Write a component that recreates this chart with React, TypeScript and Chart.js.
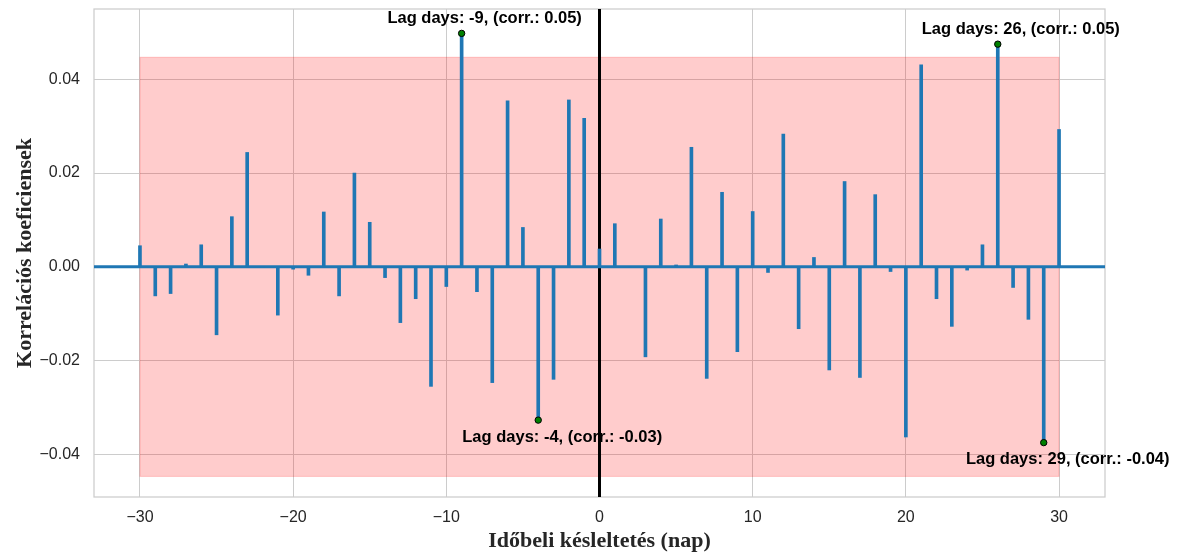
import React, { useEffect, useRef } from "react";
import { Chart, registerables } from "chart.js";

Chart.register(...registerables);

// ---- Data ----
const lags: number[] = [
  -30, -29, -28, -27, -26, -25, -24, -23, -22, -21, -20, -19, -18, -17, -16, -15,
  -14, -13, -12, -11, -10, -9, -8, -7, -6, -5, -4, -3, -2, -1, 0,
  1, 2, 3, 4, 5, 6, 7, 8, 9, 10, 11, 12, 13, 14, 15,
  16, 17, 18, 19, 20, 21, 22, 23, 24, 25, 26, 27, 28, 29, 30,
];
const corrValues: number[] = [
  0.0045, -0.0062, -0.0057, 0.0006, 0.0047, -0.0145, 0.0107, 0.0244, 0.0, -0.0103, -0.0005, -0.0018, 0.0117, -0.0062, 0.02, 0.0095,
  -0.0023, -0.0119, -0.0068, -0.0255, -0.0042, 0.0498, -0.0053, -0.0247, 0.0354, 0.0084, -0.0327, -0.024, 0.0356, 0.0317, 0.0038,
  0.0092, 0.0, -0.0192, 0.0102, 0.0004, 0.0255, -0.0238, 0.0159, -0.0181, 0.0118, -0.0012, 0.0283, -0.0132, 0.002, -0.022,
  0.0182, -0.0236, 0.0154, -0.001, -0.0363, 0.0431, -0.0068, -0.0127, -0.0007, 0.0047, 0.0475, -0.0044, -0.0112, -0.0375, 0.0293,
];
const highlightLags: number[] = [-9, 26, -4, 29];
const bandLags: number[] = [-30, 30];
const bandLimits: number[] = [-0.0447, 0.0447];
const xTickValues: number[] = [-30, -20, -10, 0, 10, 20, 30];
const yTickValues: number[] = [-0.04, -0.02, 0.0, 0.02, 0.04];
const xLimits: number[] = [-33, 33];
const yLimits: number[] = [-0.0491, 0.055];

const xTitle = "Időbeli késleltetés (nap)";
const yTitle = "Korrelációs koeficiensek";

const STEM = "#1f77b4";
const TEXT = "#262626";
const GRID = "#cccccc";
const SANS = '"Liberation Sans", Arial, sans-serif';
const SERIF = '"Liberation Serif", "Times New Roman", serif';

const fmtX = (v: number) => {
  const s = Math.round(v).toString();
  return s.replace("-", "\u2212");
};
const fmtY = (v: number) => {
  const s = Math.abs(v) < 1e-9 ? "0.00" : v.toFixed(2);
  return s.replace("-", "\u2212");
};

const decorPlugin = {
  id: "decor",
  beforeDatasetsDraw(chart: any) {
    const { ctx, chartArea, scales } = chart;
    const x = scales.x;
    const y = scales.y;
    const x0 = x.getPixelForValue(bandLags[0]);
    const x1 = x.getPixelForValue(bandLags[1]);
    const yTop = y.getPixelForValue(bandLimits[1]);
    const yBot = y.getPixelForValue(bandLimits[0]);
    ctx.save();
    ctx.fillStyle = "rgba(255,0,0,0.2)";
    ctx.fillRect(x0, yTop, x1 - x0, yBot - yTop);
    ctx.strokeStyle = "rgba(255,0,0,0.2)";
    ctx.lineWidth = 1;
    ctx.strokeRect(x0, yTop, x1 - x0, yBot - yTop);
    // axes frame
    ctx.strokeStyle = GRID;
    ctx.lineWidth = 1.25;
    ctx.strokeRect(chartArea.left, chartArea.top, chartArea.right - chartArea.left, chartArea.bottom - chartArea.top);
    ctx.restore();
  },
  afterDatasetsDraw(chart: any) {
    const { ctx, scales } = chart;
    const x = scales.x;
    const y = scales.y;
    ctx.save();
    ctx.font = `bold 16.5px ${SANS}`;
    ctx.fillStyle = "#000000";
    ctx.textAlign = "center";
    ctx.textBaseline = "middle";
    highlightLags.forEach((lag) => {
      const idx = lags.indexOf(lag);
      const v = corrValues[idx];
      const px = x.getPixelForValue(lag);
      const py = y.getPixelForValue(v);
      const label = `Lag days: ${lag}, (corr.: ${v.toFixed(2)})`;
      if (v >= 0) ctx.fillText(label, px + 23, py - 15);
      else ctx.fillText(label, px + 24, py + 17);
    });
    ctx.restore();
  },
};

export default function App() {
  const canvasRef = useRef<HTMLCanvasElement | null>(null);

  useEffect(() => {
    if (!canvasRef.current) return;
    const stemData = lags.map((l, i) => ({ x: l, y: [0, corrValues[i]] }));
    const markerData = highlightLags.map((l) => ({ x: l, y: corrValues[lags.indexOf(l)] }));

    const chart = new Chart(canvasRef.current, {
      type: "bar",
      data: {
        datasets: [
          {
            type: "line",
            label: "zero-lag",
            data: [
              { x: 0, y: yLimits[0] },
              { x: 0, y: yLimits[1] },
            ],
            borderColor: "#000000",
            borderWidth: 3,
            pointRadius: 0,
            order: 4,
          } as any,
          {
            type: "line",
            label: "baseline",
            data: [
              { x: xLimits[0], y: 0 },
              { x: xLimits[1], y: 0 },
            ],
            borderColor: STEM,
            borderWidth: 3,
            pointRadius: 0,
            order: 3,
          } as any,
          {
            type: "bar",
            label: "stems",
            data: stemData as any,
            backgroundColor: STEM,
            borderWidth: 0,
            barThickness: 3,
            grouped: false,
            order: 2,
          } as any,
          {
            type: "line",
            label: "highlights",
            data: markerData,
            showLine: false,
            pointRadius: 3.2,
            pointBackgroundColor: "#008000",
            pointBorderColor: "#000000",
            pointBorderWidth: 1,
            order: 0,
          } as any,
        ],
      },
      options: {
        responsive: false,
        animation: false,
        layout: { padding: { left: 0, top: 9, right: 77, bottom: 0 } },
        plugins: {
          legend: { display: false },
          tooltip: { enabled: false },
        },
        scales: {
          x: {
            type: "linear",
            offset: false,
            min: xLimits[0],
            max: xLimits[1],
            afterBuildTicks: (s: any) => {
              s.ticks = xTickValues.map((v) => ({ value: v }));
            },
            afterFit: (s: any) => {
              s.height = 59;
              s.paddingLeft = 0;
              s.paddingRight = 0;
            },
            ticks: {
              callback: (v: any) => fmtX(Number(v)),
              font: { family: SANS, size: 16 },
              color: TEXT,
              padding: 10.6,
              maxRotation: 0,
              autoSkip: false,
            },
            grid: { color: GRID, lineWidth: 1, drawTicks: false, offset: false },
            border: { display: false },
            title: {
              display: true,
              text: xTitle,
              font: { family: SERIF, size: 22, weight: "bold" },
              color: TEXT,
              padding: { top: 0, bottom: 1 },
            },
          },
          y: {
            type: "linear",
            min: yLimits[0],
            max: yLimits[1],
            afterBuildTicks: (s: any) => {
              s.ticks = yTickValues.map((v) => ({ value: v }));
            },
            afterFit: (s: any) => {
              s.width = 94;
              s.paddingTop = 0;
              s.paddingBottom = 0;
            },
            ticks: {
              callback: (v: any) => fmtY(Number(v)),
              font: { family: SANS, size: 16 },
              color: TEXT,
              padding: 14,
              autoSkip: false,
            },
            grid: { color: GRID, lineWidth: 1, drawTicks: false },
            border: { display: false },
            title: {
              display: true,
              text: yTitle,
              font: { family: SERIF, size: 22, weight: "bold" },
              color: TEXT,
              padding: { top: 12, bottom: 0 },
            },
          },
        },
      } as any,
      plugins: [decorPlugin],
    });
    return () => chart.destroy();
  }, []);

  return (
    <div style={{ position: "absolute", left: 0, top: 0, width: 1182, height: 556, background: "#ffffff" }}>
      <canvas ref={canvasRef} width={1182} height={556} style={{ display: "block" }} />
    </div>
  );
}
